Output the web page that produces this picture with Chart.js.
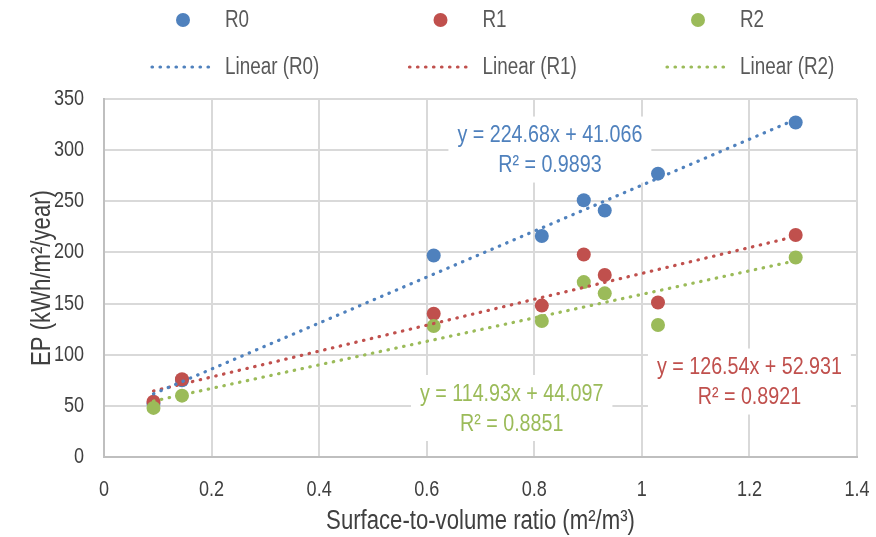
<!DOCTYPE html>
<html>
<head>
<meta charset="utf-8">
<script src="https://cdn.jsdelivr.net/npm/chart.js@4.4.1/dist/chart.umd.min.js"></script>
<style>
  html, body { margin: 0; padding: 0; background: #ffffff; }
  #wrap { width: 876px; height: 537px; }
</style>
</head>
<body>
<div id="wrap"><canvas id="c" width="876" height="537"></canvas></div>
<script>
// Surface-to-volume ratio of each building (m2/m3)
const surfaceToVolume = [0.092, 0.145, 0.613, 0.814, 0.892, 0.931, 1.030, 1.286];
// Primary energy EP (kWh/m2/year) per scenario
const epR0 = [52, 75, 197, 216, 251, 241, 277, 327];
const epR1 = [54, 76, 140, 148, 198, 178, 151, 217];
const epR2 = [48, 60, 128, 133, 171, 160, 129, 195];
const seriesNames = ['R0', 'R1', 'R2'];
// Linear trend coefficients per scenario
const trendSlopes = [224.68, 126.54, 114.93];
const trendIntercepts = [41.066, 52.931, 44.097];
const trendR2 = ['0.9893', '0.8921', '0.8851'];
// Axis ticks
const xTickValues = [0, 0.2, 0.4, 0.6, 0.8, 1, 1.2, 1.4];
const yTickValues = [0, 50, 100, 150, 200, 250, 300, 350];

const seriesValues = [epR0, epR1, epR2];
const seriesColors = ['#4F81BD', '#C0504D', '#9BBB59'];
const FONT = '"Liberation Sans", Arial, sans-serif';
// Narrow lettering: every string is drawn horizontally condensed around its anchor
const NARROW = 0.82;

const canvas = document.getElementById('c');
const ctx2d = canvas.getContext('2d');
const baseFillText = ctx2d.fillText;
const baseMeasureText = ctx2d.measureText;
ctx2d.fillText = function (text, x, y) {
  this.save();
  this.translate(x, y);
  this.scale(NARROW, 1);
  baseFillText.call(this, text, 0, 0);
  this.restore();
};
ctx2d.measureText = function (text) {
  const m = baseMeasureText.call(this, text);
  return {
    width: m.width * NARROW,
    actualBoundingBoxAscent: m.actualBoundingBoxAscent,
    actualBoundingBoxDescent: m.actualBoundingBoxDescent,
    actualBoundingBoxLeft: m.actualBoundingBoxLeft * NARROW,
    actualBoundingBoxRight: m.actualBoundingBoxRight * NARROW
  };
};

// where each trend equation box is centred, in data units
const equationAnchors = [
  { x: 0.829, y: 304.5 },
  { x: 1.2, y: 77.7 },
  { x: 0.758, y: 51.8 }
];

const xMin = Math.min(...surfaceToVolume);
const xMax = Math.max(...surfaceToVolume);

const datasets = [];
// trend lines first so they sit above the markers
seriesNames.forEach((name, i) => {
  datasets.push({
    label: 'Linear (' + name + ')',
    data: [xMin, xMax].map(x => ({ x, y: trendSlopes[i] * x + trendIntercepts[i] })),
    showLine: true,
    pointRadius: 0,
    borderColor: seriesColors[i],
    borderWidth: 3.2,
    borderDash: [0.5, 7.5],
    borderCapStyle: 'round',
    fill: false,
    order: i
  });
});
// markers: green above red above blue
seriesNames.forEach((name, i) => {
  datasets.push({
    label: name,
    data: surfaceToVolume.map((x, k) => ({ x, y: seriesValues[i][k] })),
    showLine: false,
    pointRadius: 7,
    pointHoverRadius: 7,
    pointBorderWidth: 0,
    backgroundColor: seriesColors[i],
    borderColor: seriesColors[i],
    order: 5 - i
  });
});

const whiteBackground = {
  id: 'whiteBackground',
  beforeDraw(chart) {
    const ctx = chart.ctx;
    ctx.save();
    ctx.fillStyle = '#ffffff';
    ctx.fillRect(0, 0, chart.width, chart.height);
    ctx.restore();
  }
};

// trend equations in white boxes over the grid
const equationLabels = {
  id: 'equationLabels',
  beforeDatasetsDraw(chart) {
    const ctx = chart.ctx;
    const xs = chart.scales.x, ys = chart.scales.y;
    ctx.save();
    ctx.font = '24px ' + FONT;
    ctx.textAlign = 'center';
    ctx.textBaseline = 'middle';
    seriesNames.forEach((name, i) => {
      const cx = xs.getPixelForValue(equationAnchors[i].x);
      const cy = ys.getPixelForValue(equationAnchors[i].y) + 5;
      const line1 = 'y = ' + trendSlopes[i] + 'x + ' + trendIntercepts[i];
      const line2 = 'R\u00B2 = ' + trendR2[i];
      const w = Math.max(ctx.measureText(line1).width, ctx.measureText(line2).width) + 18;
      const h = 66;
      ctx.fillStyle = '#ffffff';
      ctx.fillRect(cx - w / 2, cy - h / 2 - 1, w, h);
      ctx.fillStyle = seriesColors[i];
      ctx.fillText(line1, cx, cy - 15);
      ctx.fillText(line2, cx, cy + 15);
    });
    ctx.restore();
  }
};

// two-row legend: markers on top, trend lines below
const twoRowLegend = {
  id: 'twoRowLegend',
  afterDraw(chart) {
    const ctx = chart.ctx;
    ctx.save();
    ctx.font = '23px ' + FONT;
    ctx.textBaseline = 'middle';
    ctx.textAlign = 'left';
    seriesNames.forEach((name, i) => {
      const x0 = 150 + i * 257.5;
      ctx.beginPath();
      ctx.arc(x0 + 33, 20, 7, 0, Math.PI * 2);
      ctx.fillStyle = seriesColors[i];
      ctx.fill();
      ctx.fillStyle = '#595959';
      ctx.fillText(name, x0 + 75, 21);

      ctx.strokeStyle = seriesColors[i];
      ctx.lineWidth = 3.2;
      ctx.lineCap = 'round';
      ctx.setLineDash([0.5, 7.5]);
      ctx.beginPath();
      ctx.moveTo(x0 + 2, 67);
      ctx.lineTo(x0 + 65, 67);
      ctx.stroke();
      ctx.setLineDash([]);
      ctx.fillStyle = '#595959';
      ctx.fillText('Linear (' + name + ')', x0 + 75, 68);
    });
    ctx.restore();
  }
};

new Chart(ctx2d, {
  type: 'scatter',
  data: { datasets },
  plugins: [whiteBackground, equationLabels, twoRowLegend],
  options: {
    responsive: false,
    animation: false,
    events: [],
    layout: { autoPadding: false, padding: { top: 99, right: 19, bottom: 0, left: 0 } },
    plugins: { legend: { display: false }, tooltip: { enabled: false } },
    scales: {
      x: {
        type: 'linear',
        min: 0,
        max: 1.4,
        afterFit(scale) {
          scale.height = 80;
          scale.paddingLeft = 0;
          scale.paddingRight = 0;
        },
        afterBuildTicks(scale) { scale.ticks = xTickValues.map(v => ({ value: v })); },
        ticks: {
          padding: 20,
          color: '#404040',
          maxRotation: 0,
          font: { family: FONT, size: 22 },
          callback: v => String(+Number(v).toFixed(1))
        },
        grid: { color: '#d9d9d9', lineWidth: 2, drawTicks: false },
        border: { color: '#bfbfbf', width: 2 },
        title: {
          display: true,
          text: 'Surface-to-volume ratio (m\u00B2/m\u00B3)',
          color: '#404040',
          font: { family: FONT, size: 27, lineHeight: 1 },
          padding: { top: 0, bottom: 1.5 }
        }
      },
      y: {
        type: 'linear',
        min: 0,
        max: 350,
        afterFit(scale) {
          scale.width = 104;
          scale.paddingTop = 0;
          scale.paddingBottom = 0;
        },
        afterBuildTicks(scale) { scale.ticks = yTickValues.map(v => ({ value: v })); },
        ticks: {
          padding: 20,
          color: '#404040',
          font: { family: FONT, size: 22 }
        },
        grid: { color: '#d9d9d9', lineWidth: 2, drawTicks: false },
        border: { color: '#bfbfbf', width: 2 },
        title: {
          display: true,
          text: 'EP (kWh/m\u00B2/year)',
          color: '#404040',
          font: { family: FONT, size: 27, lineHeight: 1 },
          padding: { top: 29.5, bottom: 0 }
        }
      }
    }
  }
});
</script>
</body>
</html>
